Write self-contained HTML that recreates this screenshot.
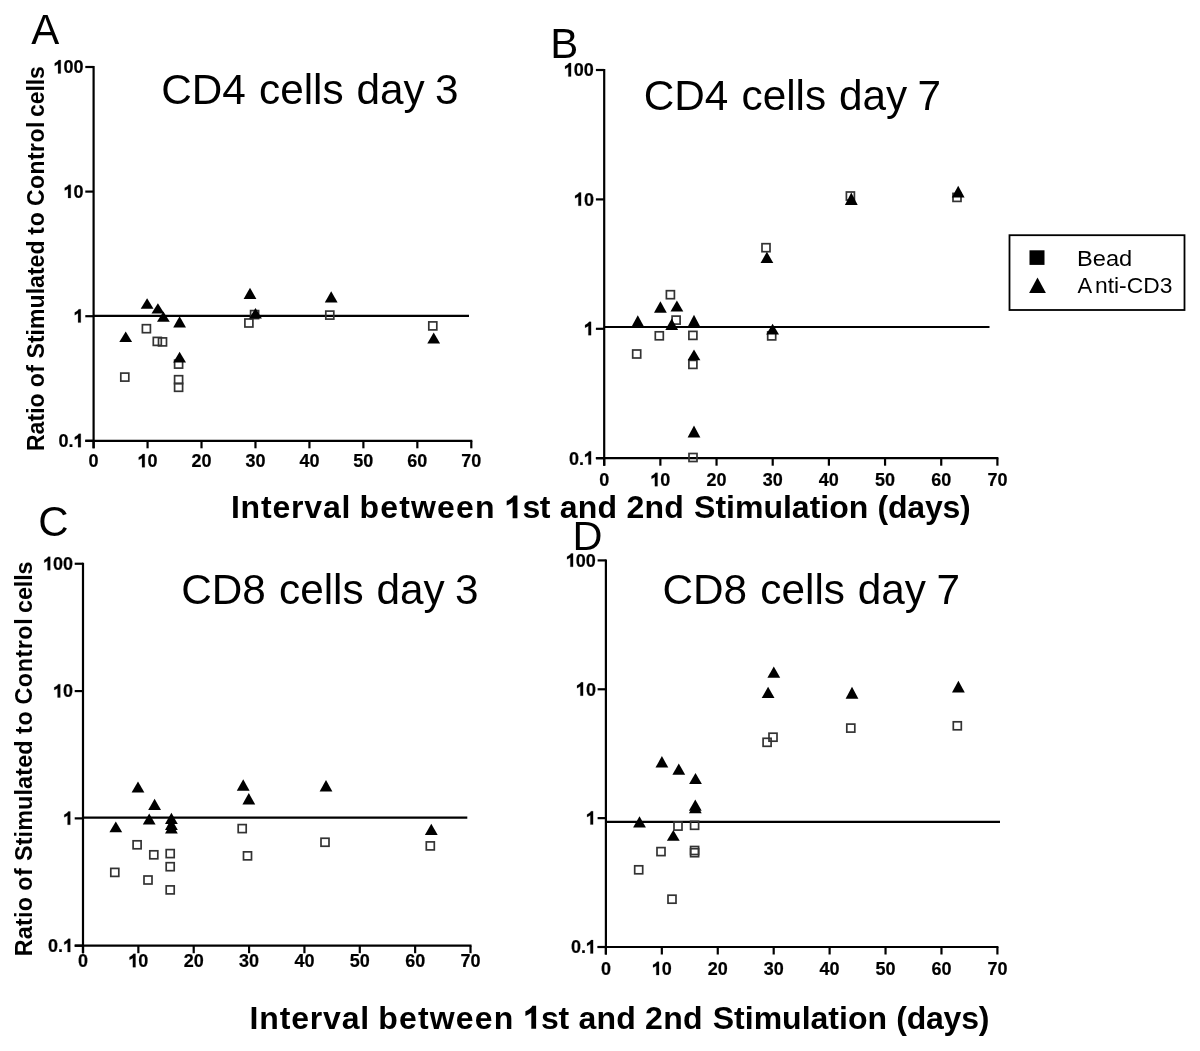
<!DOCTYPE html>
<html><head><meta charset="utf-8"><style>
html,body{margin:0;padding:0;background:#fff;}
svg{display:block;will-change:transform;}
text{font-family:"Liberation Sans",sans-serif;fill:#000;}
</style></head><body>
<svg width="1200" height="1051" viewBox="0 0 1200 1051">
<rect width="1200" height="1051" fill="#fff"/>
<line x1="93.60" y1="66.00" x2="93.60" y2="448.30" stroke="#000" stroke-width="2.2"/>
<line x1="85.30" y1="440.80" x2="472.30" y2="440.80" stroke="#000" stroke-width="2.2"/>
<line x1="85.30" y1="67.00" x2="93.60" y2="67.00" stroke="#000" stroke-width="2.2"/>
<g transform="translate(53.57 73.40) scale(1 1.035)" stroke="#000" stroke-width="0.2" stroke-linejoin="round">
<path transform="translate(0.00 0.00) scale(18.0)" stroke-width="0.0111" d="M0.40 0L0.40 -0.716L0.285 -0.716C0.245 -0.645 0.16 -0.58 0.065 -0.545L0.065 -0.40C0.13 -0.425 0.195 -0.46 0.25 -0.50L0.25 0Z"/>
<text x="10.01" y="0.00" font-size="18.0" font-weight="bold">00</text>
</g>
<line x1="85.30" y1="191.60" x2="93.60" y2="191.60" stroke="#000" stroke-width="2.2"/>
<g transform="translate(63.58 198.00) scale(1 1.035)" stroke="#000" stroke-width="0.2" stroke-linejoin="round">
<path transform="translate(0.00 0.00) scale(18.0)" stroke-width="0.0111" d="M0.40 0L0.40 -0.716L0.285 -0.716C0.245 -0.645 0.16 -0.58 0.065 -0.545L0.065 -0.40C0.13 -0.425 0.195 -0.46 0.25 -0.50L0.25 0Z"/>
<text x="10.01" y="0.00" font-size="18.0" font-weight="bold">0</text>
</g>
<line x1="85.30" y1="316.20" x2="93.60" y2="316.20" stroke="#000" stroke-width="2.2"/>
<g transform="translate(73.59 322.60) scale(1 1.035)" stroke="#000" stroke-width="0.2" stroke-linejoin="round">
<path transform="translate(0.00 0.00) scale(18.0)" stroke-width="0.0111" d="M0.40 0L0.40 -0.716L0.285 -0.716C0.245 -0.645 0.16 -0.58 0.065 -0.545L0.065 -0.40C0.13 -0.425 0.195 -0.46 0.25 -0.50L0.25 0Z"/>
</g>
<line x1="85.30" y1="440.80" x2="93.60" y2="440.80" stroke="#000" stroke-width="2.2"/>
<g transform="translate(58.58 447.20) scale(1 1.035)" stroke="#000" stroke-width="0.2" stroke-linejoin="round">
<text x="0.00" y="0.00" font-size="18.0" font-weight="bold">0.</text>
<path transform="translate(15.01 0.00) scale(18.0)" stroke-width="0.0111" d="M0.40 0L0.40 -0.716L0.285 -0.716C0.245 -0.645 0.16 -0.58 0.065 -0.545L0.065 -0.40C0.13 -0.425 0.195 -0.46 0.25 -0.50L0.25 0Z"/>
</g>
<line x1="93.60" y1="440.80" x2="93.60" y2="448.30" stroke="#000" stroke-width="2.2"/>
<g transform="translate(88.59 467.30) scale(1 1.035)" stroke="#000" stroke-width="0.2" stroke-linejoin="round">
<text x="0.00" y="0.00" font-size="18.0" font-weight="bold">0</text>
</g>
<line x1="147.56" y1="440.80" x2="147.56" y2="448.30" stroke="#000" stroke-width="2.2"/>
<g transform="translate(137.55 467.30) scale(1 1.035)" stroke="#000" stroke-width="0.2" stroke-linejoin="round">
<path transform="translate(0.00 0.00) scale(18.0)" stroke-width="0.0111" d="M0.40 0L0.40 -0.716L0.285 -0.716C0.245 -0.645 0.16 -0.58 0.065 -0.545L0.065 -0.40C0.13 -0.425 0.195 -0.46 0.25 -0.50L0.25 0Z"/>
<text x="10.01" y="0.00" font-size="18.0" font-weight="bold">0</text>
</g>
<line x1="201.51" y1="440.80" x2="201.51" y2="448.30" stroke="#000" stroke-width="2.2"/>
<g transform="translate(191.50 467.30) scale(1 1.035)" stroke="#000" stroke-width="0.2" stroke-linejoin="round">
<text x="0.00" y="0.00" font-size="18.0" font-weight="bold">20</text>
</g>
<line x1="255.47" y1="440.80" x2="255.47" y2="448.30" stroke="#000" stroke-width="2.2"/>
<g transform="translate(245.46 467.30) scale(1 1.035)" stroke="#000" stroke-width="0.2" stroke-linejoin="round">
<text x="0.00" y="0.00" font-size="18.0" font-weight="bold">30</text>
</g>
<line x1="309.43" y1="440.80" x2="309.43" y2="448.30" stroke="#000" stroke-width="2.2"/>
<g transform="translate(299.42 467.30) scale(1 1.035)" stroke="#000" stroke-width="0.2" stroke-linejoin="round">
<text x="0.00" y="0.00" font-size="18.0" font-weight="bold">40</text>
</g>
<line x1="363.39" y1="440.80" x2="363.39" y2="448.30" stroke="#000" stroke-width="2.2"/>
<g transform="translate(353.37 467.30) scale(1 1.035)" stroke="#000" stroke-width="0.2" stroke-linejoin="round">
<text x="0.00" y="0.00" font-size="18.0" font-weight="bold">50</text>
</g>
<line x1="417.34" y1="440.80" x2="417.34" y2="448.30" stroke="#000" stroke-width="2.2"/>
<g transform="translate(407.33 467.30) scale(1 1.035)" stroke="#000" stroke-width="0.2" stroke-linejoin="round">
<text x="0.00" y="0.00" font-size="18.0" font-weight="bold">60</text>
</g>
<line x1="471.30" y1="440.80" x2="471.30" y2="448.30" stroke="#000" stroke-width="2.2"/>
<g transform="translate(461.29 467.30) scale(1 1.035)" stroke="#000" stroke-width="0.2" stroke-linejoin="round">
<text x="0.00" y="0.00" font-size="18.0" font-weight="bold">70</text>
</g>
<line x1="93.60" y1="315.80" x2="469.00" y2="315.80" stroke="#000" stroke-width="2.2"/>
<rect x="120.80" y="373.10" width="8.0" height="8.0" fill="none" stroke="#333" stroke-width="1.7"/>
<rect x="142.40" y="324.70" width="8.0" height="8.0" fill="none" stroke="#333" stroke-width="1.7"/>
<rect x="153.30" y="337.40" width="8.0" height="8.0" fill="none" stroke="#333" stroke-width="1.7"/>
<rect x="158.50" y="337.90" width="8.0" height="8.0" fill="none" stroke="#333" stroke-width="1.7"/>
<rect x="174.60" y="360.10" width="8.0" height="8.0" fill="none" stroke="#333" stroke-width="1.7"/>
<rect x="174.60" y="375.70" width="8.0" height="8.0" fill="none" stroke="#333" stroke-width="1.7"/>
<rect x="174.60" y="383.30" width="8.0" height="8.0" fill="none" stroke="#333" stroke-width="1.7"/>
<rect x="244.90" y="319.00" width="8.0" height="8.0" fill="none" stroke="#333" stroke-width="1.7"/>
<rect x="250.60" y="310.60" width="8.0" height="8.0" fill="none" stroke="#333" stroke-width="1.7"/>
<rect x="325.80" y="311.10" width="8.0" height="8.0" fill="none" stroke="#333" stroke-width="1.7"/>
<rect x="428.80" y="321.90" width="8.0" height="8.0" fill="none" stroke="#333" stroke-width="1.7"/>
<path d="M125.70 331.40L132.10 341.90L119.30 341.90Z"/>
<path d="M147.10 298.30L153.50 308.70L140.70 308.70Z"/>
<path d="M157.90 303.20L164.30 313.40L151.50 313.40Z"/>
<path d="M163.40 311.60L169.80 321.80L157.00 321.80Z"/>
<path d="M179.60 316.30L186.00 327.40L173.20 327.40Z"/>
<path d="M179.60 351.80L186.00 362.60L173.20 362.60Z"/>
<path d="M250.00 287.70L256.40 298.90L243.60 298.90Z"/>
<path d="M255.50 308.10L261.90 318.40L249.10 318.40Z"/>
<path d="M331.20 291.30L337.60 302.50L324.80 302.50Z"/>
<path d="M433.70 332.40L440.10 343.40L427.30 343.40Z"/>
<line x1="604.20" y1="69.00" x2="604.20" y2="465.70" stroke="#000" stroke-width="2.2"/>
<line x1="595.90" y1="458.20" x2="998.40" y2="458.20" stroke="#000" stroke-width="2.2"/>
<line x1="595.90" y1="70.00" x2="604.20" y2="70.00" stroke="#000" stroke-width="2.2"/>
<g transform="translate(563.87 76.40) scale(1 1.035)" stroke="#000" stroke-width="0.2" stroke-linejoin="round">
<path transform="translate(0.00 0.00) scale(18.0)" stroke-width="0.0111" d="M0.40 0L0.40 -0.716L0.285 -0.716C0.245 -0.645 0.16 -0.58 0.065 -0.545L0.065 -0.40C0.13 -0.425 0.195 -0.46 0.25 -0.50L0.25 0Z"/>
<text x="10.01" y="0.00" font-size="18.0" font-weight="bold">00</text>
</g>
<line x1="595.90" y1="199.40" x2="604.20" y2="199.40" stroke="#000" stroke-width="2.2"/>
<g transform="translate(573.88 205.80) scale(1 1.035)" stroke="#000" stroke-width="0.2" stroke-linejoin="round">
<path transform="translate(0.00 0.00) scale(18.0)" stroke-width="0.0111" d="M0.40 0L0.40 -0.716L0.285 -0.716C0.245 -0.645 0.16 -0.58 0.065 -0.545L0.065 -0.40C0.13 -0.425 0.195 -0.46 0.25 -0.50L0.25 0Z"/>
<text x="10.01" y="0.00" font-size="18.0" font-weight="bold">0</text>
</g>
<line x1="595.90" y1="328.80" x2="604.20" y2="328.80" stroke="#000" stroke-width="2.2"/>
<g transform="translate(583.89 335.20) scale(1 1.035)" stroke="#000" stroke-width="0.2" stroke-linejoin="round">
<path transform="translate(0.00 0.00) scale(18.0)" stroke-width="0.0111" d="M0.40 0L0.40 -0.716L0.285 -0.716C0.245 -0.645 0.16 -0.58 0.065 -0.545L0.065 -0.40C0.13 -0.425 0.195 -0.46 0.25 -0.50L0.25 0Z"/>
</g>
<line x1="595.90" y1="458.20" x2="604.20" y2="458.20" stroke="#000" stroke-width="2.2"/>
<g transform="translate(568.88 464.60) scale(1 1.035)" stroke="#000" stroke-width="0.2" stroke-linejoin="round">
<text x="0.00" y="0.00" font-size="18.0" font-weight="bold">0.</text>
<path transform="translate(15.01 0.00) scale(18.0)" stroke-width="0.0111" d="M0.40 0L0.40 -0.716L0.285 -0.716C0.245 -0.645 0.16 -0.58 0.065 -0.545L0.065 -0.40C0.13 -0.425 0.195 -0.46 0.25 -0.50L0.25 0Z"/>
</g>
<line x1="604.20" y1="458.20" x2="604.20" y2="465.70" stroke="#000" stroke-width="2.2"/>
<g transform="translate(599.19 486.20) scale(1 1.035)" stroke="#000" stroke-width="0.2" stroke-linejoin="round">
<text x="0.00" y="0.00" font-size="18.0" font-weight="bold">0</text>
</g>
<line x1="660.37" y1="458.20" x2="660.37" y2="465.70" stroke="#000" stroke-width="2.2"/>
<g transform="translate(650.36 486.20) scale(1 1.035)" stroke="#000" stroke-width="0.2" stroke-linejoin="round">
<path transform="translate(0.00 0.00) scale(18.0)" stroke-width="0.0111" d="M0.40 0L0.40 -0.716L0.285 -0.716C0.245 -0.645 0.16 -0.58 0.065 -0.545L0.065 -0.40C0.13 -0.425 0.195 -0.46 0.25 -0.50L0.25 0Z"/>
<text x="10.01" y="0.00" font-size="18.0" font-weight="bold">0</text>
</g>
<line x1="716.54" y1="458.20" x2="716.54" y2="465.70" stroke="#000" stroke-width="2.2"/>
<g transform="translate(706.53 486.20) scale(1 1.035)" stroke="#000" stroke-width="0.2" stroke-linejoin="round">
<text x="0.00" y="0.00" font-size="18.0" font-weight="bold">20</text>
</g>
<line x1="772.71" y1="458.20" x2="772.71" y2="465.70" stroke="#000" stroke-width="2.2"/>
<g transform="translate(762.70 486.20) scale(1 1.035)" stroke="#000" stroke-width="0.2" stroke-linejoin="round">
<text x="0.00" y="0.00" font-size="18.0" font-weight="bold">30</text>
</g>
<line x1="828.89" y1="458.20" x2="828.89" y2="465.70" stroke="#000" stroke-width="2.2"/>
<g transform="translate(818.87 486.20) scale(1 1.035)" stroke="#000" stroke-width="0.2" stroke-linejoin="round">
<text x="0.00" y="0.00" font-size="18.0" font-weight="bold">40</text>
</g>
<line x1="885.06" y1="458.20" x2="885.06" y2="465.70" stroke="#000" stroke-width="2.2"/>
<g transform="translate(875.05 486.20) scale(1 1.035)" stroke="#000" stroke-width="0.2" stroke-linejoin="round">
<text x="0.00" y="0.00" font-size="18.0" font-weight="bold">50</text>
</g>
<line x1="941.23" y1="458.20" x2="941.23" y2="465.70" stroke="#000" stroke-width="2.2"/>
<g transform="translate(931.22 486.20) scale(1 1.035)" stroke="#000" stroke-width="0.2" stroke-linejoin="round">
<text x="0.00" y="0.00" font-size="18.0" font-weight="bold">60</text>
</g>
<line x1="997.40" y1="458.20" x2="997.40" y2="465.70" stroke="#000" stroke-width="2.2"/>
<g transform="translate(987.39 486.20) scale(1 1.035)" stroke="#000" stroke-width="0.2" stroke-linejoin="round">
<text x="0.00" y="0.00" font-size="18.0" font-weight="bold">70</text>
</g>
<line x1="604.20" y1="327.00" x2="989.50" y2="327.00" stroke="#000" stroke-width="2.2"/>
<rect x="666.40" y="290.70" width="8.0" height="8.0" fill="none" stroke="#333" stroke-width="1.7"/>
<rect x="672.10" y="316.10" width="8.0" height="8.0" fill="none" stroke="#333" stroke-width="1.7"/>
<rect x="655.30" y="331.80" width="8.0" height="8.0" fill="none" stroke="#333" stroke-width="1.7"/>
<rect x="688.90" y="331.40" width="8.0" height="8.0" fill="none" stroke="#333" stroke-width="1.7"/>
<rect x="632.70" y="350.00" width="8.0" height="8.0" fill="none" stroke="#333" stroke-width="1.7"/>
<rect x="688.90" y="360.40" width="8.0" height="8.0" fill="none" stroke="#333" stroke-width="1.7"/>
<rect x="689.00" y="453.50" width="8.0" height="8.0" fill="none" stroke="#333" stroke-width="1.7"/>
<rect x="762.00" y="243.70" width="8.0" height="8.0" fill="none" stroke="#333" stroke-width="1.7"/>
<rect x="767.70" y="331.90" width="8.0" height="8.0" fill="none" stroke="#333" stroke-width="1.7"/>
<rect x="846.40" y="192.00" width="8.0" height="8.0" fill="none" stroke="#333" stroke-width="1.7"/>
<rect x="953.00" y="193.40" width="8.0" height="8.0" fill="none" stroke="#333" stroke-width="1.7"/>
<path d="M637.80 315.30L644.20 327.00L631.40 327.00Z"/>
<path d="M660.40 301.20L666.80 312.70L654.00 312.70Z"/>
<path d="M676.90 300.60L683.30 311.50L670.50 311.50Z"/>
<path d="M671.70 318.60L678.10 330.10L665.30 330.10Z"/>
<path d="M694.00 314.80L700.40 327.00L687.60 327.00Z"/>
<path d="M694.00 349.60L700.40 360.30L687.60 360.30Z"/>
<path d="M694.00 425.50L700.40 437.60L687.60 437.60Z"/>
<path d="M766.90 251.80L773.30 263.00L760.50 263.00Z"/>
<path d="M772.60 323.70L779.00 334.40L766.20 334.40Z"/>
<path d="M851.30 192.50L857.70 204.90L844.90 204.90Z"/>
<path d="M958.20 185.80L964.60 197.50L951.80 197.50Z"/>
<line x1="83.00" y1="562.75" x2="83.00" y2="953.20" stroke="#000" stroke-width="2.2"/>
<line x1="74.70" y1="945.70" x2="471.50" y2="945.70" stroke="#000" stroke-width="2.2"/>
<line x1="74.70" y1="563.75" x2="83.00" y2="563.75" stroke="#000" stroke-width="2.2"/>
<g transform="translate(43.07 570.15) scale(1 1.035)" stroke="#000" stroke-width="0.2" stroke-linejoin="round">
<path transform="translate(0.00 0.00) scale(18.0)" stroke-width="0.0111" d="M0.40 0L0.40 -0.716L0.285 -0.716C0.245 -0.645 0.16 -0.58 0.065 -0.545L0.065 -0.40C0.13 -0.425 0.195 -0.46 0.25 -0.50L0.25 0Z"/>
<text x="10.01" y="0.00" font-size="18.0" font-weight="bold">00</text>
</g>
<line x1="74.70" y1="691.07" x2="83.00" y2="691.07" stroke="#000" stroke-width="2.2"/>
<g transform="translate(53.08 697.47) scale(1 1.035)" stroke="#000" stroke-width="0.2" stroke-linejoin="round">
<path transform="translate(0.00 0.00) scale(18.0)" stroke-width="0.0111" d="M0.40 0L0.40 -0.716L0.285 -0.716C0.245 -0.645 0.16 -0.58 0.065 -0.545L0.065 -0.40C0.13 -0.425 0.195 -0.46 0.25 -0.50L0.25 0Z"/>
<text x="10.01" y="0.00" font-size="18.0" font-weight="bold">0</text>
</g>
<line x1="74.70" y1="818.38" x2="83.00" y2="818.38" stroke="#000" stroke-width="2.2"/>
<g transform="translate(63.09 824.78) scale(1 1.035)" stroke="#000" stroke-width="0.2" stroke-linejoin="round">
<path transform="translate(0.00 0.00) scale(18.0)" stroke-width="0.0111" d="M0.40 0L0.40 -0.716L0.285 -0.716C0.245 -0.645 0.16 -0.58 0.065 -0.545L0.065 -0.40C0.13 -0.425 0.195 -0.46 0.25 -0.50L0.25 0Z"/>
</g>
<line x1="74.70" y1="945.70" x2="83.00" y2="945.70" stroke="#000" stroke-width="2.2"/>
<g transform="translate(48.08 952.10) scale(1 1.035)" stroke="#000" stroke-width="0.2" stroke-linejoin="round">
<text x="0.00" y="0.00" font-size="18.0" font-weight="bold">0.</text>
<path transform="translate(15.01 0.00) scale(18.0)" stroke-width="0.0111" d="M0.40 0L0.40 -0.716L0.285 -0.716C0.245 -0.645 0.16 -0.58 0.065 -0.545L0.065 -0.40C0.13 -0.425 0.195 -0.46 0.25 -0.50L0.25 0Z"/>
</g>
<line x1="83.00" y1="945.70" x2="83.00" y2="953.20" stroke="#000" stroke-width="2.2"/>
<g transform="translate(77.99 967.20) scale(1 1.035)" stroke="#000" stroke-width="0.2" stroke-linejoin="round">
<text x="0.00" y="0.00" font-size="18.0" font-weight="bold">0</text>
</g>
<line x1="138.36" y1="945.70" x2="138.36" y2="953.20" stroke="#000" stroke-width="2.2"/>
<g transform="translate(128.35 967.20) scale(1 1.035)" stroke="#000" stroke-width="0.2" stroke-linejoin="round">
<path transform="translate(0.00 0.00) scale(18.0)" stroke-width="0.0111" d="M0.40 0L0.40 -0.716L0.285 -0.716C0.245 -0.645 0.16 -0.58 0.065 -0.545L0.065 -0.40C0.13 -0.425 0.195 -0.46 0.25 -0.50L0.25 0Z"/>
<text x="10.01" y="0.00" font-size="18.0" font-weight="bold">0</text>
</g>
<line x1="193.71" y1="945.70" x2="193.71" y2="953.20" stroke="#000" stroke-width="2.2"/>
<g transform="translate(183.70 967.20) scale(1 1.035)" stroke="#000" stroke-width="0.2" stroke-linejoin="round">
<text x="0.00" y="0.00" font-size="18.0" font-weight="bold">20</text>
</g>
<line x1="249.07" y1="945.70" x2="249.07" y2="953.20" stroke="#000" stroke-width="2.2"/>
<g transform="translate(239.06 967.20) scale(1 1.035)" stroke="#000" stroke-width="0.2" stroke-linejoin="round">
<text x="0.00" y="0.00" font-size="18.0" font-weight="bold">30</text>
</g>
<line x1="304.43" y1="945.70" x2="304.43" y2="953.20" stroke="#000" stroke-width="2.2"/>
<g transform="translate(294.42 967.20) scale(1 1.035)" stroke="#000" stroke-width="0.2" stroke-linejoin="round">
<text x="0.00" y="0.00" font-size="18.0" font-weight="bold">40</text>
</g>
<line x1="359.79" y1="945.70" x2="359.79" y2="953.20" stroke="#000" stroke-width="2.2"/>
<g transform="translate(349.77 967.20) scale(1 1.035)" stroke="#000" stroke-width="0.2" stroke-linejoin="round">
<text x="0.00" y="0.00" font-size="18.0" font-weight="bold">50</text>
</g>
<line x1="415.14" y1="945.70" x2="415.14" y2="953.20" stroke="#000" stroke-width="2.2"/>
<g transform="translate(405.13 967.20) scale(1 1.035)" stroke="#000" stroke-width="0.2" stroke-linejoin="round">
<text x="0.00" y="0.00" font-size="18.0" font-weight="bold">60</text>
</g>
<line x1="470.50" y1="945.70" x2="470.50" y2="953.20" stroke="#000" stroke-width="2.2"/>
<g transform="translate(460.49 967.20) scale(1 1.035)" stroke="#000" stroke-width="0.2" stroke-linejoin="round">
<text x="0.00" y="0.00" font-size="18.0" font-weight="bold">70</text>
</g>
<line x1="83.00" y1="817.70" x2="467.30" y2="817.70" stroke="#000" stroke-width="2.2"/>
<rect x="133.10" y="840.80" width="8.0" height="8.0" fill="none" stroke="#333" stroke-width="1.7"/>
<rect x="149.80" y="850.80" width="8.0" height="8.0" fill="none" stroke="#333" stroke-width="1.7"/>
<rect x="166.20" y="849.60" width="8.0" height="8.0" fill="none" stroke="#333" stroke-width="1.7"/>
<rect x="166.20" y="862.70" width="8.0" height="8.0" fill="none" stroke="#333" stroke-width="1.7"/>
<rect x="110.80" y="868.40" width="8.0" height="8.0" fill="none" stroke="#333" stroke-width="1.7"/>
<rect x="144.00" y="876.00" width="8.0" height="8.0" fill="none" stroke="#333" stroke-width="1.7"/>
<rect x="166.20" y="885.90" width="8.0" height="8.0" fill="none" stroke="#333" stroke-width="1.7"/>
<rect x="238.20" y="824.60" width="8.0" height="8.0" fill="none" stroke="#333" stroke-width="1.7"/>
<rect x="243.50" y="851.85" width="8.0" height="8.0" fill="none" stroke="#333" stroke-width="1.7"/>
<rect x="321.00" y="838.25" width="8.0" height="8.0" fill="none" stroke="#333" stroke-width="1.7"/>
<rect x="426.30" y="841.90" width="8.0" height="8.0" fill="none" stroke="#333" stroke-width="1.7"/>
<path d="M115.80 821.40L122.20 832.30L109.40 832.30Z"/>
<path d="M138.00 781.50L144.40 792.40L131.60 792.40Z"/>
<path d="M154.60 798.80L161.00 810.10L148.20 810.10Z"/>
<path d="M149.20 813.60L155.60 824.50L142.80 824.50Z"/>
<path d="M171.40 812.70L177.80 823.90L165.00 823.90Z"/>
<path d="M171.40 818.60L177.80 829.90L165.00 829.90Z"/>
<path d="M171.40 822.40L177.80 833.50L165.00 833.50Z"/>
<path d="M243.20 779.30L249.60 790.70L236.80 790.70Z"/>
<path d="M248.80 792.90L255.20 804.40L242.40 804.40Z"/>
<path d="M326.00 779.90L332.40 791.40L319.60 791.40Z"/>
<path d="M431.30 823.80L437.70 834.90L424.90 834.90Z"/>
<line x1="605.90" y1="559.40" x2="605.90" y2="954.50" stroke="#000" stroke-width="2.2"/>
<line x1="597.60" y1="947.00" x2="998.40" y2="947.00" stroke="#000" stroke-width="2.2"/>
<line x1="597.60" y1="560.40" x2="605.90" y2="560.40" stroke="#000" stroke-width="2.2"/>
<g transform="translate(565.87 566.80) scale(1 1.035)" stroke="#000" stroke-width="0.2" stroke-linejoin="round">
<path transform="translate(0.00 0.00) scale(18.0)" stroke-width="0.0111" d="M0.40 0L0.40 -0.716L0.285 -0.716C0.245 -0.645 0.16 -0.58 0.065 -0.545L0.065 -0.40C0.13 -0.425 0.195 -0.46 0.25 -0.50L0.25 0Z"/>
<text x="10.01" y="0.00" font-size="18.0" font-weight="bold">00</text>
</g>
<line x1="597.60" y1="689.27" x2="605.90" y2="689.27" stroke="#000" stroke-width="2.2"/>
<g transform="translate(575.88 695.67) scale(1 1.035)" stroke="#000" stroke-width="0.2" stroke-linejoin="round">
<path transform="translate(0.00 0.00) scale(18.0)" stroke-width="0.0111" d="M0.40 0L0.40 -0.716L0.285 -0.716C0.245 -0.645 0.16 -0.58 0.065 -0.545L0.065 -0.40C0.13 -0.425 0.195 -0.46 0.25 -0.50L0.25 0Z"/>
<text x="10.01" y="0.00" font-size="18.0" font-weight="bold">0</text>
</g>
<line x1="597.60" y1="818.13" x2="605.90" y2="818.13" stroke="#000" stroke-width="2.2"/>
<g transform="translate(585.89 824.53) scale(1 1.035)" stroke="#000" stroke-width="0.2" stroke-linejoin="round">
<path transform="translate(0.00 0.00) scale(18.0)" stroke-width="0.0111" d="M0.40 0L0.40 -0.716L0.285 -0.716C0.245 -0.645 0.16 -0.58 0.065 -0.545L0.065 -0.40C0.13 -0.425 0.195 -0.46 0.25 -0.50L0.25 0Z"/>
</g>
<line x1="597.60" y1="947.00" x2="605.90" y2="947.00" stroke="#000" stroke-width="2.2"/>
<g transform="translate(570.88 953.40) scale(1 1.035)" stroke="#000" stroke-width="0.2" stroke-linejoin="round">
<text x="0.00" y="0.00" font-size="18.0" font-weight="bold">0.</text>
<path transform="translate(15.01 0.00) scale(18.0)" stroke-width="0.0111" d="M0.40 0L0.40 -0.716L0.285 -0.716C0.245 -0.645 0.16 -0.58 0.065 -0.545L0.065 -0.40C0.13 -0.425 0.195 -0.46 0.25 -0.50L0.25 0Z"/>
</g>
<line x1="605.90" y1="947.00" x2="605.90" y2="954.50" stroke="#000" stroke-width="2.2"/>
<g transform="translate(600.89 975.00) scale(1 1.035)" stroke="#000" stroke-width="0.2" stroke-linejoin="round">
<text x="0.00" y="0.00" font-size="18.0" font-weight="bold">0</text>
</g>
<line x1="661.83" y1="947.00" x2="661.83" y2="954.50" stroke="#000" stroke-width="2.2"/>
<g transform="translate(651.82 975.00) scale(1 1.035)" stroke="#000" stroke-width="0.2" stroke-linejoin="round">
<path transform="translate(0.00 0.00) scale(18.0)" stroke-width="0.0111" d="M0.40 0L0.40 -0.716L0.285 -0.716C0.245 -0.645 0.16 -0.58 0.065 -0.545L0.065 -0.40C0.13 -0.425 0.195 -0.46 0.25 -0.50L0.25 0Z"/>
<text x="10.01" y="0.00" font-size="18.0" font-weight="bold">0</text>
</g>
<line x1="717.76" y1="947.00" x2="717.76" y2="954.50" stroke="#000" stroke-width="2.2"/>
<g transform="translate(707.75 975.00) scale(1 1.035)" stroke="#000" stroke-width="0.2" stroke-linejoin="round">
<text x="0.00" y="0.00" font-size="18.0" font-weight="bold">20</text>
</g>
<line x1="773.69" y1="947.00" x2="773.69" y2="954.50" stroke="#000" stroke-width="2.2"/>
<g transform="translate(763.67 975.00) scale(1 1.035)" stroke="#000" stroke-width="0.2" stroke-linejoin="round">
<text x="0.00" y="0.00" font-size="18.0" font-weight="bold">30</text>
</g>
<line x1="829.61" y1="947.00" x2="829.61" y2="954.50" stroke="#000" stroke-width="2.2"/>
<g transform="translate(819.60 975.00) scale(1 1.035)" stroke="#000" stroke-width="0.2" stroke-linejoin="round">
<text x="0.00" y="0.00" font-size="18.0" font-weight="bold">40</text>
</g>
<line x1="885.54" y1="947.00" x2="885.54" y2="954.50" stroke="#000" stroke-width="2.2"/>
<g transform="translate(875.53 975.00) scale(1 1.035)" stroke="#000" stroke-width="0.2" stroke-linejoin="round">
<text x="0.00" y="0.00" font-size="18.0" font-weight="bold">50</text>
</g>
<line x1="941.47" y1="947.00" x2="941.47" y2="954.50" stroke="#000" stroke-width="2.2"/>
<g transform="translate(931.46 975.00) scale(1 1.035)" stroke="#000" stroke-width="0.2" stroke-linejoin="round">
<text x="0.00" y="0.00" font-size="18.0" font-weight="bold">60</text>
</g>
<line x1="997.40" y1="947.00" x2="997.40" y2="954.50" stroke="#000" stroke-width="2.2"/>
<g transform="translate(987.39 975.00) scale(1 1.035)" stroke="#000" stroke-width="0.2" stroke-linejoin="round">
<text x="0.00" y="0.00" font-size="18.0" font-weight="bold">70</text>
</g>
<line x1="605.90" y1="821.80" x2="1000.00" y2="821.80" stroke="#000" stroke-width="2.2"/>
<rect x="674.00" y="822.10" width="8.0" height="8.0" fill="none" stroke="#333" stroke-width="1.7"/>
<rect x="690.60" y="821.30" width="8.0" height="8.0" fill="none" stroke="#333" stroke-width="1.7"/>
<rect x="657.00" y="847.60" width="8.0" height="8.0" fill="none" stroke="#333" stroke-width="1.7"/>
<rect x="690.60" y="846.50" width="8.0" height="8.0" fill="none" stroke="#333" stroke-width="1.7"/>
<rect x="690.60" y="848.70" width="8.0" height="8.0" fill="none" stroke="#333" stroke-width="1.7"/>
<rect x="634.70" y="865.80" width="8.0" height="8.0" fill="none" stroke="#333" stroke-width="1.7"/>
<rect x="668.00" y="895.20" width="8.0" height="8.0" fill="none" stroke="#333" stroke-width="1.7"/>
<rect x="769.00" y="733.20" width="8.0" height="8.0" fill="none" stroke="#333" stroke-width="1.7"/>
<rect x="763.10" y="738.30" width="8.0" height="8.0" fill="none" stroke="#333" stroke-width="1.7"/>
<rect x="846.80" y="724.10" width="8.0" height="8.0" fill="none" stroke="#333" stroke-width="1.7"/>
<rect x="953.30" y="721.80" width="8.0" height="8.0" fill="none" stroke="#333" stroke-width="1.7"/>
<path d="M661.90 756.10L668.30 767.60L655.50 767.60Z"/>
<path d="M678.80 763.50L685.20 774.70L672.40 774.70Z"/>
<path d="M695.50 772.90L701.90 784.10L689.10 784.10Z"/>
<path d="M695.30 799.40L701.70 810.70L688.90 810.70Z"/>
<path d="M695.30 801.90L701.70 813.20L688.90 813.20Z"/>
<path d="M639.50 816.30L645.90 827.60L633.10 827.60Z"/>
<path d="M673.30 830.10L679.70 840.80L666.90 840.80Z"/>
<path d="M773.80 666.50L780.20 677.70L767.40 677.70Z"/>
<path d="M768.10 686.70L774.50 697.90L761.70 697.90Z"/>
<path d="M852.00 686.70L858.40 698.70L845.60 698.70Z"/>
<path d="M958.40 680.80L964.80 692.50L952.00 692.50Z"/>
<text x="31.22" y="44.00" font-size="42" font-weight="normal" >A</text>
<text x="550.36" y="57.90" font-size="42" font-weight="normal" >B</text>
<text x="38.30" y="535.80" font-size="42" font-weight="normal" >C</text>
<text x="572.40" y="549.80" font-size="41.5" font-weight="normal" >D</text>
<text x="161.19" y="104.00" font-size="42.3">CD4</text>
<text x="259.02" y="104.00" font-size="42.3">cells</text>
<text x="356.52" y="104.00" font-size="42.3">day</text>
<text x="435.09" y="104.00" font-size="42.3">3</text>
<text x="643.68" y="110.00" font-size="42.3">CD4</text>
<text x="741.52" y="110.00" font-size="42.3">cells</text>
<text x="839.02" y="110.00" font-size="42.3">day</text>
<text x="917.59" y="110.00" font-size="42.3">7</text>
<text x="181.19" y="604.30" font-size="42.3">CD8</text>
<text x="279.02" y="604.30" font-size="42.3">cells</text>
<text x="376.52" y="604.30" font-size="42.3">day</text>
<text x="455.09" y="604.30" font-size="42.3">3</text>
<text x="662.49" y="604.20" font-size="42.3">CD8</text>
<text x="760.32" y="604.20" font-size="42.3">cells</text>
<text x="857.82" y="604.20" font-size="42.3">day</text>
<text x="936.39" y="604.20" font-size="42.3">7</text>
<text transform="rotate(-90)" x="-451.12" y="44.00" font-size="23.0" font-weight="bold" textLength="57.79" lengthAdjust="spacing">Ratio</text>
<text transform="rotate(-90)" x="-387.22" y="44.00" font-size="23.0" font-weight="bold" textLength="22.12" lengthAdjust="spacing">of</text>
<text transform="rotate(-90)" x="-358.49" y="44.00" font-size="23.0" font-weight="bold" textLength="118.00" lengthAdjust="spacing">Stimulated</text>
<text transform="rotate(-90)" x="-234.68" y="44.00" font-size="23.0" font-weight="bold" textLength="22.55" lengthAdjust="spacing">to</text>
<text transform="rotate(-90)" x="-206.07" y="44.00" font-size="23.0" font-weight="bold" textLength="84.39" lengthAdjust="spacing">Control</text>
<text transform="rotate(-90)" x="-116.92" y="44.00" font-size="23.0" font-weight="bold" textLength="50.74" lengthAdjust="spacing">cells</text>
<text transform="rotate(-90)" x="-956.24" y="32.30" font-size="23.4" font-weight="bold" textLength="59.33" lengthAdjust="spacing">Ratio</text>
<text transform="rotate(-90)" x="-890.64" y="32.30" font-size="23.4" font-weight="bold" textLength="22.53" lengthAdjust="spacing">of</text>
<text transform="rotate(-90)" x="-861.00" y="32.30" font-size="23.4" font-weight="bold" textLength="120.54" lengthAdjust="spacing">Stimulated</text>
<text transform="rotate(-90)" x="-733.98" y="32.30" font-size="23.4" font-weight="bold" textLength="22.87" lengthAdjust="spacing">to</text>
<text transform="rotate(-90)" x="-704.58" y="32.30" font-size="23.4" font-weight="bold" textLength="86.24" lengthAdjust="spacing">Control</text>
<text transform="rotate(-90)" x="-612.94" y="32.30" font-size="23.4" font-weight="bold" textLength="51.48" lengthAdjust="spacing">cells</text>
<text x="230.89" y="518.30" font-size="32.0" font-weight="bold" textLength="119.62" lengthAdjust="spacing" >Interval</text>
<text x="359.59" y="518.30" font-size="32.0" font-weight="bold" textLength="134.93" lengthAdjust="spacing" >between</text>
<path transform="translate(504.62 518.30) scale(32.0)" stroke="none" d="M0.40 0L0.40 -0.716L0.285 -0.716C0.245 -0.645 0.16 -0.58 0.065 -0.545L0.065 -0.40C0.13 -0.425 0.195 -0.46 0.25 -0.50L0.25 0Z"/>
<text x="522.42" y="518.30" font-size="32.0" font-weight="bold" textLength="28.00" lengthAdjust="spacing" >st</text>
<text x="559.84" y="518.30" font-size="32.0" font-weight="bold" textLength="57.27" lengthAdjust="spacing" >and</text>
<text x="626.41" y="518.30" font-size="32.0" font-weight="bold" textLength="57.40" lengthAdjust="spacing" >2nd</text>
<text x="694.04" y="518.30" font-size="32.0" font-weight="bold" textLength="174.26" lengthAdjust="spacing" >Stimulation</text>
<text x="877.60" y="518.30" font-size="32.0" font-weight="bold" textLength="93.08" lengthAdjust="spacing" >(days)</text>
<text x="249.59" y="1028.70" font-size="32.0" font-weight="bold" textLength="119.62" lengthAdjust="spacing" >Interval</text>
<text x="378.29" y="1028.70" font-size="32.0" font-weight="bold" textLength="134.93" lengthAdjust="spacing" >between</text>
<path transform="translate(523.32 1028.70) scale(32.0)" stroke="none" d="M0.40 0L0.40 -0.716L0.285 -0.716C0.245 -0.645 0.16 -0.58 0.065 -0.545L0.065 -0.40C0.13 -0.425 0.195 -0.46 0.25 -0.50L0.25 0Z"/>
<text x="541.12" y="1028.70" font-size="32.0" font-weight="bold" textLength="28.00" lengthAdjust="spacing" >st</text>
<text x="578.54" y="1028.70" font-size="32.0" font-weight="bold" textLength="57.27" lengthAdjust="spacing" >and</text>
<text x="645.11" y="1028.70" font-size="32.0" font-weight="bold" textLength="57.40" lengthAdjust="spacing" >2nd</text>
<text x="712.74" y="1028.70" font-size="32.0" font-weight="bold" textLength="174.26" lengthAdjust="spacing" >Stimulation</text>
<text x="896.30" y="1028.70" font-size="32.0" font-weight="bold" textLength="93.08" lengthAdjust="spacing" >(days)</text>
<rect x="1009.5" y="235.2" width="175" height="74.8" fill="none" stroke="#000" stroke-width="1.8"/>
<rect x="1029.5" y="250.3" width="15" height="14.6" fill="#000"/>
<path d="M1037.5 277.6L1045.9 293L1029.1 293Z"/>
<text transform="translate(1077.06 266.00) scale(1.0751 1)" x="0" y="0" font-size="22" font-weight="normal">Bead</text>
<text x="1077.56" y="292.80" font-size="22" font-weight="normal" >A</text>
<text transform="translate(1094.99 292.80) scale(1.0380 1)" x="0" y="0" font-size="22" font-weight="normal">nti-CD3</text>
</svg>
</body></html>
